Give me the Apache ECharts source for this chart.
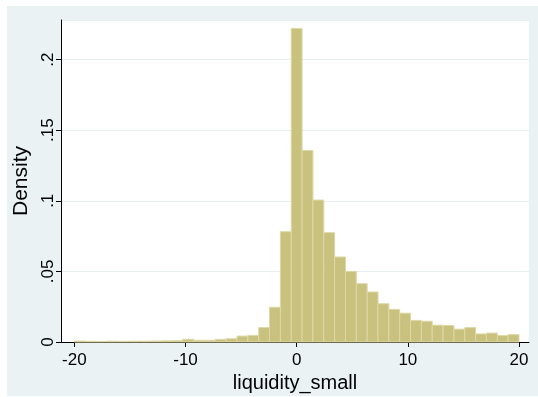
<!DOCTYPE html>
<html>
<head>
<meta charset="utf-8">
<script src="https://cdn.jsdelivr.net/npm/echarts@6/dist/echarts.min.js"></script>
<style>
html,body{margin:0;padding:0;background:#ffffff;}
#chart{position:absolute;left:7px;top:6px;width:531px;height:390px;}
</style>
</head>
<body>
<div id="chart"></div>
<script>
// Histogram definition
const binMin = -20;
const binMax = 20;
const binCount = 41;
// Density per bin (left to right)
const densities = [
  0.0007, 0.0005, 0.0004, 0.0006, 0.0005, 0.0006, 0.0006, 0.0007, 0.0008, 0.0009,
  0.0019, 0.0012, 0.0012, 0.0019, 0.0023, 0.0042, 0.0047, 0.0102, 0.0246, 0.0781,
  0.2220, 0.1356, 0.1005, 0.0774, 0.0602, 0.0500, 0.0413, 0.0354, 0.0271, 0.0231,
  0.0204, 0.0153, 0.0147, 0.0119, 0.0117, 0.0091, 0.0102, 0.0057, 0.0063, 0.0045,
  0.0052
];
const xTicks = [-20, -10, 0, 10, 20];
const yTicks = [0, 0.05, 0.1, 0.15, 0.2];
const xTitle = 'liquidity_small';
const yTitle = 'Density';

const binWidth = (binMax - binMin) / binCount;
const barData = densities.map((d, i) => [binMin + i * binWidth, binMin + (i + 1) * binWidth, d]);

function fmtY(v) {
  if (v === 0) return '0';
  return String(+v.toFixed(2)).replace(/^0\./, '.');
}

const chart = echarts.init(document.getElementById('chart'), null, {renderer: 'canvas'});
const font = 'Liberation Sans, Arial, Helvetica, sans-serif';
chart.setOption({
  backgroundColor: '#EAF2F3',
  animation: false,
  grid: {left: 54, top: 14, right: 9, bottom: 54, containLabel: false, outerBoundsMode: 'none',
         show: true, backgroundColor: '#ffffff', borderWidth: 0},
  xAxis: {
    type: 'value', min: -21.2, max: 20.9,
    name: xTitle, nameLocation: 'middle', nameGap: 21,
    nameTextStyle: {color: '#000', fontSize: 20, fontFamily: font},
    axisLine: {show: true, onZero: false, lineStyle: {color: '#000', width: 1}},
    axisTick: {show: true, length: 5, customValues: xTicks, lineStyle: {color: '#000'}},
    axisLabel: {customValues: xTicks, color: '#000', fontSize: 17, fontFamily: font, margin: 10},
    splitLine: {show: false}
  },
  yAxis: {
    type: 'value', min: 0, max: 0.228, interval: 0.05,
    name: yTitle, nameLocation: 'middle', nameGap: 28,
    nameTextStyle: {color: '#000', fontSize: 21, fontFamily: font},
    axisLine: {show: true, onZero: false, lineStyle: {color: '#000', width: 1}},
    axisTick: {show: true, length: 5, lineStyle: {color: '#000'}},
    axisLabel: {color: '#000', fontSize: 17, fontFamily: font, rotate: 90, margin: 4, formatter: fmtY, showMaxLabel: false},
    splitLine: {show: true, lineStyle: {color: '#E6EEF0', width: 1}}
  },
  series: [{
    type: 'custom',
    data: barData,
    encode: {x: [0, 1], y: 2},
    renderItem: function (params, api) {
      const p0 = api.coord([api.value(0), api.value(2)]);
      const p1 = api.coord([api.value(1), 0]);
      return {
        type: 'rect',
        shape: {x: p0[0], y: p0[1], width: p1[0] - p0[0], height: p1[1] - p0[1]},
        style: {fill: '#C9C17E', stroke: '#DDD8A6', lineWidth: 1}
      };
    }
  }]
});
</script>
</body>
</html>
